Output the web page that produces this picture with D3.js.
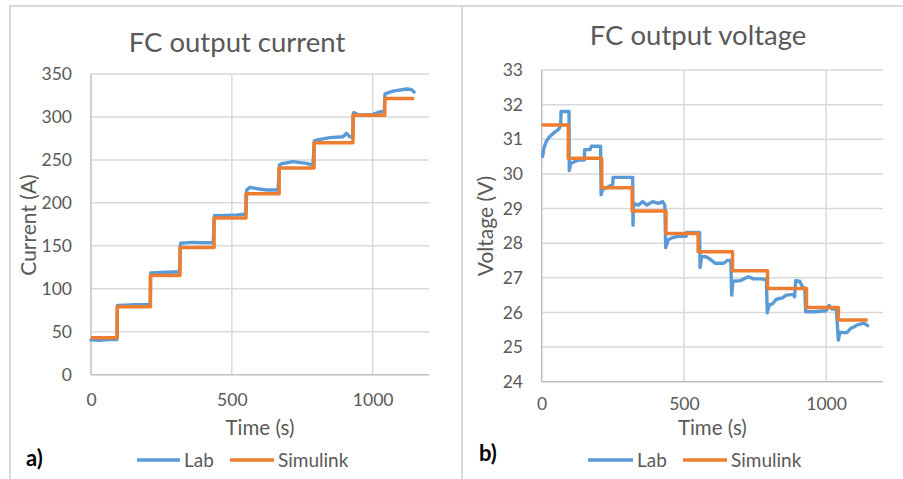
<!DOCTYPE html>
<html>
<head>
<meta charset="utf-8">
<script src="https://cdn.jsdelivr.net/npm/d3@7"></script>
<style>
  html, body { margin: 0; padding: 0; background: #fff; }
  svg { display: block; font-family: "Lato", "Open Sans", sans-serif; }
</style>
</head>
<body>
<svg id="chart" width="903" height="479"></svg>
<script>
// ---------------- DATA ----------------
const seriesNames = ["Lab", "Simulink"];

// Panel a) FC output current
const currentTitle = "FC output current";
const currentYLabel = "Current (A)";
const currentYTicks = [0, 50, 100, 150, 200, 250, 300, 350];
const timeTicks = [0, 500, 1000];
const simCurrentTime = [0, 93, 211, 316, 437, 550, 668, 792, 930, 1043, 1147];
const simCurrentValue = [43, 79, 115.5, 148, 182.5, 210.5, 240.5, 270, 302, 321.5, 321.5];
const labCurrentTime = [0, 30, 60, 92, 94, 120, 160, 205, 210, 212, 250, 290, 314, 318, 360, 400, 434, 438, 480, 520, 550, 553, 564, 590, 623, 664, 669, 676, 717, 765, 788, 793, 800, 848, 895, 907, 918, 929, 932, 954, 1001, 1025, 1041, 1044, 1072, 1120, 1137, 1147];
const labCurrentValue = [40.5, 40, 41, 41, 80.5, 81, 81.5, 81.5, 81, 118.5, 119, 119.5, 119.5, 153, 154, 153.5, 153.5, 185, 185.5, 186, 187, 215, 218, 216.5, 215, 215, 244, 245.5, 248, 246, 244, 272, 273, 276, 277, 281, 277, 277, 305, 302, 303, 306, 306, 327, 330, 332.5, 332, 329];

// Panel b) FC output voltage
const voltageTitle = "FC output voltage";
const voltageYLabel = "Voltage (V)";
const voltageYTicks = [24, 25, 26, 27, 28, 29, 30, 31, 32, 33];
const simVoltageTime = [0, 93.5, 211, 318, 437, 550, 671, 794, 931, 1043, 1146];
const simVoltageValue = [31.41, 30.45, 29.6, 28.93, 28.28, 27.75, 27.2, 26.69, 26.14, 25.78, 25.78];
const labVoltageTime = [3, 8, 16, 25, 34, 45, 57, 64, 67, 68, 80, 96, 97, 102, 115, 130, 150, 151, 170, 175, 207, 209, 214, 230, 250, 251, 290, 320, 321, 323, 340, 355, 370, 390, 410, 425, 433, 436, 445, 457, 480, 508, 509, 530, 555, 557, 562, 580, 598, 610, 640, 652, 665, 668, 672, 700, 726, 745, 770, 790, 793, 800, 812, 825, 847, 860, 885, 889, 893, 907, 918, 925, 928, 960, 1000, 1010, 1020, 1036, 1043, 1048, 1074, 1086, 1098, 1110, 1133, 1146];
const labVoltageValue = [30.5, 30.75, 30.93, 31.05, 31.12, 31.2, 31.27, 31.35, 31.46, 31.8, 31.8, 31.8, 30.1, 30.3, 30.35, 30.4, 30.4, 30.7, 30.7, 30.8, 30.8, 29.4, 29.55, 29.6, 29.7, 29.9, 29.9, 29.9, 28.52, 29.15, 29.1, 29.2, 29.1, 29.2, 29.15, 29.2, 29.1, 27.87, 28.1, 28.15, 28.2, 28.2, 28.31, 28.31, 28.31, 27.3, 27.62, 27.6, 27.5, 27.42, 27.42, 27.5, 27.5, 26.5, 26.9, 26.92, 27.03, 26.97, 26.97, 26.95, 25.99, 26.22, 26.25, 26.38, 26.42, 26.5, 26.52, 26.45, 26.92, 26.9, 26.72, 26.7, 26.02, 26.02, 26.05, 26.2, 26.1, 26.1, 25.2, 25.42, 25.42, 25.54, 25.58, 25.64, 25.69, 25.62];

// ---------------- STYLE ----------------
const COL_LAB = "#5b9bd5", COL_SIM = "#ed7d31";
const TEXT = "#595959", GRID = "#d9d9d9", AXIS = "#bfbfbf";

const svg = d3.select("#chart");

// panel borders
svg.append("path").attr("d", "M10,479 V6 H903 M462,6 V479")
  .attr("fill", "none").attr("stroke", GRID).attr("stroke-width", 2);

function panel(cfg) {
  const x = d3.scaleLinear().domain([0, 1200]).range([cfg.x0, cfg.x1]);
  const y = d3.scaleLinear().domain(cfg.yDomain).range([cfg.y1, cfg.y0]);
  const g = svg.append("g");

  // horizontal grid
  g.append("g").selectAll("line").data(cfg.yTicks.slice(1)).join("line")
    .attr("x1", cfg.x0).attr("x2", cfg.x1)
    .attr("y1", d => y(d)).attr("y2", d => y(d))
    .attr("stroke", GRID).attr("stroke-width", 1.5);
  // vertical grid
  g.append("g").selectAll("line").data(cfg.xTicks.slice(1)).join("line")
    .attr("x1", d => x(d)).attr("x2", d => x(d))
    .attr("y1", cfg.y0).attr("y2", cfg.y1)
    .attr("stroke", GRID).attr("stroke-width", 1.5);
  // axis lines
  g.append("line").attr("x1", cfg.x0).attr("x2", cfg.x0).attr("y1", cfg.y0).attr("y2", cfg.y1)
    .attr("stroke", AXIS).attr("stroke-width", 1.5);
  g.append("line").attr("x1", cfg.x0).attr("x2", cfg.x1).attr("y1", cfg.y1).attr("y2", cfg.y1)
    .attr("stroke", AXIS).attr("stroke-width", 1.5);

  // y tick labels via axis
  const yAxis = d3.axisLeft(y).tickValues(cfg.yTicks).tickSize(0).tickPadding(0).tickFormat(d3.format("d"));
  const ya = g.append("g").attr("transform", `translate(${cfg.yLabX},0)`).call(yAxis);
  ya.select(".domain").remove();
  ya.selectAll("text").attr("fill", TEXT).style("font-size", "17.5px").style("font-family", "Lato, sans-serif");

  const xAxis = d3.axisBottom(x).tickValues(cfg.xTicks).tickSize(0).tickPadding(0).tickFormat(d3.format("d"));
  const xa = g.append("g").attr("transform", `translate(0,${cfg.xLabY})`).call(xAxis);
  xa.select(".domain").remove();
  xa.selectAll("text").attr("fill", TEXT).attr("dy", "0.35em").style("font-size", "17.5px").style("font-family", "Lato, sans-serif");

  // lines
  const simPts = cfg.simT.map((t, i) => [t, cfg.simV[i]]);
  const labPts = cfg.labT.map((t, i) => [t, cfg.labV[i]]);
  g.append("path").datum(labPts)
    .attr("d", d3.line().x(d => x(d[0])).y(d => y(d[1])))
    .attr("fill", "none").attr("stroke", COL_LAB).attr("stroke-width", 3.4)
    .attr("stroke-linejoin", "round").attr("stroke-linecap", "round");
  g.append("path").datum(simPts)
    .attr("d", d3.line().curve(d3.curveStepAfter).x(d => x(d[0])).y(d => y(d[1])))
    .attr("fill", "none").attr("stroke", COL_SIM).attr("stroke-width", 3.5)
    .attr("stroke-linejoin", "round");

  // title
  g.append("text").attr("x", cfg.titleX).attr("y", cfg.titleY).attr("text-anchor", "middle")
    .attr("fill", TEXT).style("font-size", "27.5px").text(cfg.title);
  // axis titles
  g.append("text").attr("x", (cfg.x0 + cfg.x1) / 2).attr("y", 435).attr("text-anchor", "middle")
    .attr("fill", TEXT).style("font-size", "20.5px").text("Time (s)");
  g.append("text").attr("transform", `translate(${cfg.yTitleX},${cfg.yTitleY}) rotate(-90)`)
    .attr("text-anchor", "middle").attr("dy", "0.35em")
    .attr("fill", TEXT).style("font-size", "21px").text(cfg.yLabel);

  // legend
  const leg = cfg.legend;
  [[COL_LAB, seriesNames[0], leg[0], leg[1]], [COL_SIM, seriesNames[1], leg[2], leg[3]]].forEach(([c, name, lx0, lx1]) => {
    g.append("line").attr("x1", lx0).attr("x2", lx1).attr("y1", 460).attr("y2", 460)
      .attr("stroke", c).attr("stroke-width", 3.5);
    g.append("text").attr("x", lx1 + 4).attr("y", 460).attr("dy", "0.35em")
      .attr("fill", TEXT).style("font-size", "19px").text(name);
  });
  // panel letter
  g.append("text").attr("x", cfg.letterX).attr("y", cfg.letterY)
    .attr("fill", "#000").style("font-size", "22px").style("font-weight", "bold").text(cfg.letter);
}

panel({
  x0: 91, x1: 429, y0: 74, y1: 374.7, yDomain: [0, 350],
  yTicks: currentYTicks, xTicks: timeTicks,
  yLabX: 72, xLabY: 400,
  simT: simCurrentTime, simV: simCurrentValue, labT: labCurrentTime, labV: labCurrentValue,
  title: currentTitle, titleX: 237, titleY: 52,
  yLabel: currentYLabel, yTitleX: 29, yTitleY: 225,
  legend: [137, 180, 230, 274],
  letter: "a)", letterX: 26, letterY: 466
});

panel({
  x0: 541.7, x1: 883, y0: 70, y1: 381.7, yDomain: [24, 33],
  yTicks: voltageYTicks, xTicks: timeTicks,
  yLabX: 523, xLabY: 404,
  simT: simVoltageTime, simV: simVoltageValue, labT: labVoltageTime, labV: labVoltageValue,
  title: voltageTitle, titleX: 698, titleY: 45,
  yLabel: voltageYLabel, yTitleX: 486, yTitleY: 226,
  legend: [588, 633, 683, 727],
  letter: "b)", letterX: 479, letterY: 461
});
</script>
</body>
</html>
